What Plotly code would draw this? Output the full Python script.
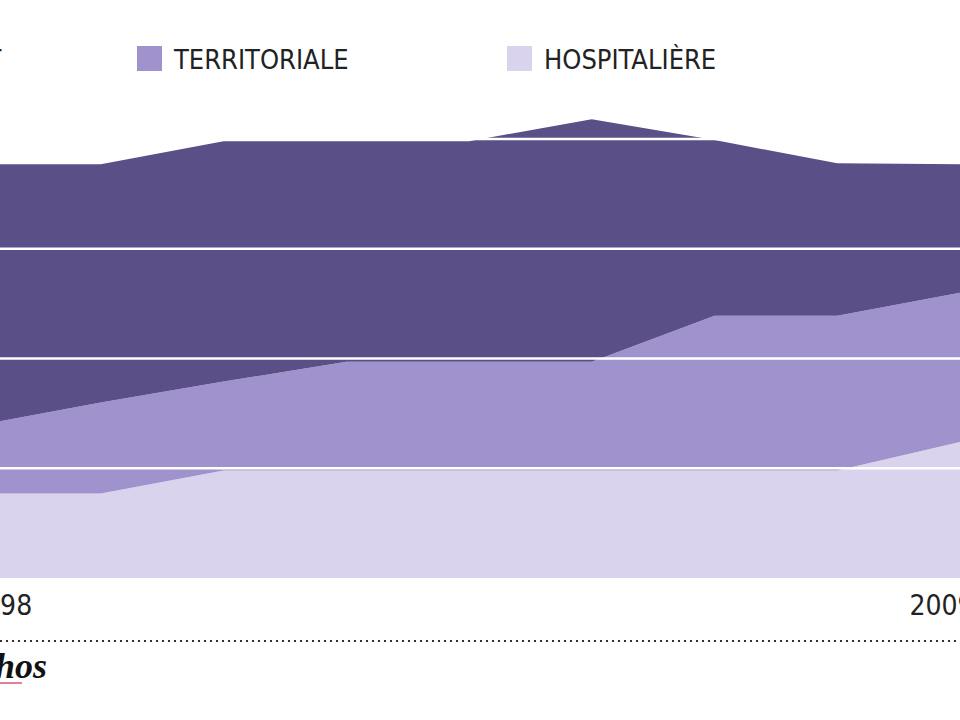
import plotly.graph_objects as go

# Data (stacked values, arbitrary units: gridline = 1)
points = [0, 1, 2, 3, 4, 5, 6, 7, 8]
hospitaliere = [0.77, 0.77, 0.98, 0.98, 0.98, 0.98, 0.98, 0.98, 1.24]
territoriale = [0.62, 0.83, 0.81, 0.99, 0.99, 0.99, 1.41, 1.41, 1.36]
etat = [2.38, 2.17, 2.19, 2.01, 2.01, 2.21, 1.60, 1.39, 1.17]
tick_labels = ["1998", "2009"]
tick_positions = [0.18, 7.85]
grid_values = [1, 2, 3, 4]

C_ETAT = "#5a5087"
C_TERR = "#a092cc"
C_HOSP = "#dad3ed"

W, H = 960, 720
PLOT_BOTTOM = 578  # pixel row of the zero baseline

def px_x(x):
    return x / W

def px_y(y):
    return 1 - y / PLOT_BOTTOM

fig = go.Figure()
for name, vals, col in [("HOSPITALIÈRE", hospitaliere, C_HOSP),
                        ("TERRITORIALE", territoriale, C_TERR),
                        ("ÉTAT", etat, C_ETAT)]:
    fig.add_trace(go.Scatter(x=points, y=vals, name=name, mode="lines",
                             stackgroup="one", line=dict(width=0, color=col),
                             fillcolor=col, hoverinfo="skip"))

shapes = []
for g in grid_values:
    shapes.append(dict(type="line", xref="paper", yref="y", x0=0, x1=1, y0=g, y1=g,
                       line=dict(color="white", width=2.5), layer="above"))

# legend squares
for x0, col in [(137, C_TERR), (507, C_HOSP)]:
    shapes.append(dict(type="rect", xref="paper", yref="paper",
                       x0=px_x(x0), x1=px_x(x0 + 25), y0=px_y(46), y1=px_y(71),
                       fillcolor=col, line=dict(width=0)))

# dotted separator
shapes.append(dict(type="line", xref="paper", yref="paper", x0=0, x1=1,
                   y0=px_y(641), y1=px_y(641),
                   line=dict(color="#333333", width=2, dash="2px,4px")))
# red underline of logo
shapes.append(dict(type="line", xref="paper", yref="paper", x0=px_x(-60), x1=px_x(22),
                   y0=px_y(683), y1=px_y(683),
                   line=dict(color="#d65a78", width=1.5)))

FONT_FAMILY = "DejaVu Sans Condensed, Roboto"
LEG_FONT = dict(family=FONT_FAMILY, size=27, color="#222222")
annotations = [
    dict(text="TERRITORIALE", x=px_x(171), y=px_y(59), xref="paper", yref="paper",
         xanchor="left", yanchor="middle", showarrow=False, font=LEG_FONT),
    dict(text="HOSPITALIÈRE", x=px_x(542), y=px_y(59), xref="paper", yref="paper",
         xanchor="left", yanchor="middle", showarrow=False, font=LEG_FONT),
    dict(text="ÉTAT", x=px_x(4), y=px_y(59), xref="paper", yref="paper",
         xanchor="right", yanchor="middle", showarrow=False, font=LEG_FONT),
    dict(text="Les Echos", x=px_x(49), y=px_y(666), xref="paper", yref="paper",
         xanchor="right", yanchor="middle", showarrow=False,
         font=dict(family="Liberation Serif, DejaVu Serif", size=36, color="#111111",
                   style="italic", weight="bold")),
]

fig.update_layout(
    width=W, height=H,
    margin=dict(l=0, r=0, t=0, b=H - PLOT_BOTTOM, pad=0, autoexpand=False),
    paper_bgcolor="white", plot_bgcolor="white",
    showlegend=False,
    shapes=shapes, annotations=annotations,
    xaxis=dict(range=[0.179, 8.0], showgrid=False, zeroline=False, showline=False,
               automargin=False,
               tickmode="array", tickvals=tick_positions, ticktext=tick_labels,
               ticks="", ticklabelstandoff=8, ticklabeloverflow="allow",
               tickfont=dict(family=FONT_FAMILY, size=28, color="#222222")),
    yaxis=dict(range=[0, PLOT_BOTTOM / 109.75], showgrid=False, zeroline=False,
               showline=False, showticklabels=False, automargin=False),
)

fig.write_html("out.html")
